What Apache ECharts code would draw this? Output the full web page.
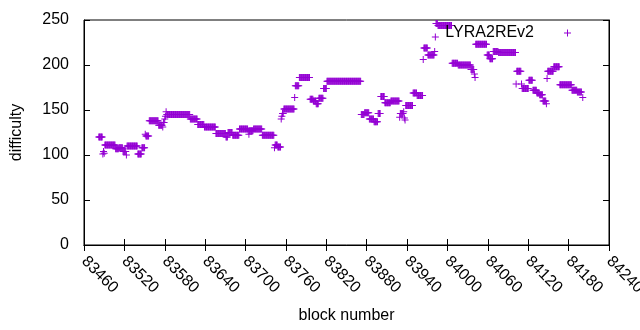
<!DOCTYPE html>
<html>
<head>
<meta charset="utf-8">
<script src="https://cdn.jsdelivr.net/npm/echarts@6/dist/echarts.min.js"></script>
<style>
html,body{margin:0;padding:0;background:#fff;}
#chart{width:640px;height:330px;}
</style>
</head>
<body>
<div id="chart"></div>
<script>
// Runs of consecutive blocks sharing one difficulty value
var runStart = [83482,83488,83489,83490,83491,83507,83512,83518,83523,83524,83540,83546,83551,83552,83557,83571,83577,83578,83580,83581,83582,83583,83618,83629,83639,83656,83671,83674,83681,83691,83704,83705,83706,83712,83725,83743,83744,83748,83753,83754,83755,83757,83773,83774,83780,83796,83801,83805,83809,83816,83821,83872,83877,83884,83891,83897,83901,83907,83916,83929,83930,83935,83936,83937,83938,83949,83955,83964,83965,83971,83981,83982,83983,83986,84007,84016,84035,84040,84041,84042,84059,84063,84068,84076,84102,84103,84110,84111,84121,84127,84133,84137,84142,84147,84148,84149,84158,84167,84185,84193,84201];
var runEnd   = [83487,83488,83489,83490,83506,83511,83517,83522,83523,83539,83545,83550,83551,83556,83570,83576,83577,83579,83580,83581,83582,83617,83628,83638,83655,83670,83673,83680,83690,83703,83704,83705,83711,83724,83742,83743,83747,83752,83753,83754,83756,83772,83773,83779,83795,83800,83804,83808,83815,83820,83871,83876,83883,83890,83896,83900,83906,83915,83928,83929,83934,83935,83936,83937,83948,83954,83963,83964,83970,83980,83981,83982,83985,84006,84015,84034,84039,84040,84041,84058,84062,84067,84075,84101,84102,84109,84110,84120,84126,84132,84136,84141,84146,84147,84148,84157,84166,84184,84192,84199,84201];
var runValue = [120,101,104,102,111,107,108,104,100,110,101,108,123,121,138,133,131,136,140,143,148,145,140,134,131,124,120,125,122,129,127,123,127,129,122,108,111,109,140,143,146,151,164,177,186,162,160,157,163,174,182,145,147,140,137,146,165,158,160,142,146,148,141,139,155,169,166,206,219,211,215,231,246,244,202,200,195,190,186,223,211,207,215,214,179,193,179,174,183,172,169,167,160,157,185,193,198,178,172,170,164];

var seriesName = 'LYRA2REv2';
var xTicks = {min: 83460, max: 84240, step: 60};
var yTicks = {min: 0, max: 250, step: 50};

var points = [];
for (var i = 0; i < runStart.length; i++) {
  for (var b = runStart[i]; b <= runEnd[i]; b++) {
    points.push([b, runValue[i]]);
  }
}

var plus = 'path://M0,3H7V4H0Z M3,0H4V7H3Z';
// legend key: same plus, drawn at the right end of a wider key area (gnuplot-style sample)
var plusKey = 'path://M0,3.5 M25,3H32V4H25Z M28,0H29V7H28Z';
var font = 'Liberation Sans, Arial, sans-serif';
var purple = '#9400d3';

var chart = echarts.init(document.getElementById('chart'), null, {renderer: 'canvas'});
chart.setOption({
  animation: false,
  backgroundColor: '#fff',
  grid: {left: 84, right: 31, top: 20, bottom: 85, containLabel: false, outerBoundsMode: 'none',
         show: true, borderColor: '#000', borderWidth: 1, backgroundColor: 'transparent'},
  legend: {
    data: [{name: seriesName, icon: plusKey}],
    align: 'right',
    right: 64,
    top: 20,
    itemWidth: 32,
    itemHeight: 7,
    textStyle: {fontFamily: font, fontSize: 16, color: '#000'}
  },
  xAxis: [{
    type: 'value',
    min: xTicks.min, max: xTicks.max, interval: xTicks.step,
    name: 'block number', nameLocation: 'middle', nameGap: 63,
    nameTextStyle: {fontFamily: font, fontSize: 16, color: '#000'},
    axisLine: {show: true, lineStyle: {color: '#000', width: 1}},
    axisTick: {show: true, inside: true, length: 6, lineStyle: {color: '#000'}},
    axisLabel: {rotate: -45, margin: 14, fontFamily: font, fontSize: 16, color: '#000',
                showMaxLabel: true, showMinLabel: true, hideOverlap: false,
                formatter: function (v) { return String(v); }},
    splitLine: {show: false}
  }, {
    type: 'value', position: 'top',
    min: xTicks.min, max: xTicks.max, interval: xTicks.step,
    axisLine: {show: true, lineStyle: {color: '#000'}},
    axisTick: {show: true, inside: true, length: 6, lineStyle: {color: '#000'}},
    axisLabel: {show: false}, splitLine: {show: false}
  }],
  yAxis: [{
    type: 'value',
    min: yTicks.min, max: yTicks.max, interval: yTicks.step,
    name: 'difficulty', nameLocation: 'middle', nameGap: 59, nameRotate: 90,
    nameTextStyle: {fontFamily: font, fontSize: 16, color: '#000'},
    axisLine: {show: true, lineStyle: {color: '#000', width: 1}},
    axisTick: {show: true, inside: true, length: 6, lineStyle: {color: '#000'}},
    axisLabel: {margin: 15, fontFamily: font, fontSize: 16, color: '#000'},
    splitLine: {show: false}
  }, {
    type: 'value', position: 'right',
    min: yTicks.min, max: yTicks.max, interval: yTicks.step,
    axisLine: {show: true, lineStyle: {color: '#000'}},
    axisTick: {show: true, inside: true, length: 6, lineStyle: {color: '#000'}},
    axisLabel: {show: false}, splitLine: {show: false}
  }],
  series: [{
    name: seriesName,
    type: 'scatter',
    xAxisIndex: 0, yAxisIndex: 0,
    symbol: plus,
    symbolSize: 7,
    itemStyle: {color: purple, opacity: 1},
    emphasis: {disabled: true},
    data: points
  }]
});
</script>
</body>
</html>
